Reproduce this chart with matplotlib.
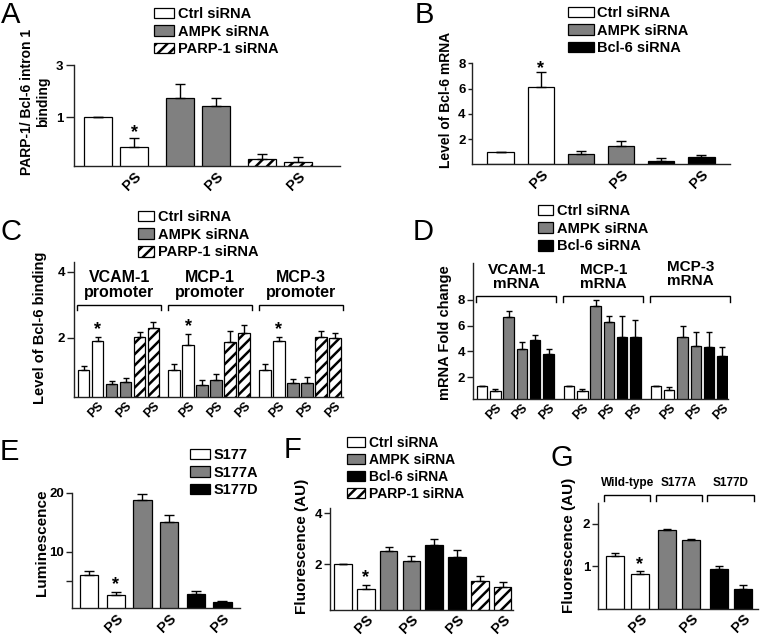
import matplotlib
matplotlib.use("Agg")
import matplotlib.pyplot as plt
from matplotlib.patches import Patch
import numpy as np

plt.rcParams['font.family'] = ['Liberation Sans', 'DejaVu Sans']
plt.rcParams['font.weight'] = 'bold'
plt.rcParams['hatch.linewidth'] = 1.8

# ---------------- data ----------------
pair_label = "PS"
# A
a_series = ["Ctrl siRNA", "AMPK siRNA", "PARP-1 siRNA"]
a_ctrl = [1.0, 0.53];  a_ctrl_err = [0.0, 0.11]
a_ampk = [1.50, 1.26]; a_ampk_err = [0.50, 0.24]
a_parp = [0.42, 0.39]; a_parp_err = [0.04, 0.045]
a_ticks = [1, 3]
# B
b_series = ["Ctrl siRNA", "AMPK siRNA", "Bcl-6 siRNA"]
b_ctrl = [0.95, 6.16]; b_ctrl_err = [0.0, 1.17]
b_ampk = [0.84, 1.43]; b_ampk_err = [0.21, 0.39]
b_bcl6 = [0.24, 0.55]; b_bcl6_err = [0.24, 0.16]
b_ticks = [2, 4, 6, 8]
# C
c_series = ["Ctrl siRNA", "AMPK siRNA", "PARP-1 siRNA"]
c_groups = ["VCAM-1\npromoter", "MCP-1\npromoter", "MCP-3\npromoter"]
c_ctrl = [1.02, 1.90, 1.03, 1.78, 1.03, 1.90]
c_ctrl_err = [0.12, 0.11, 0.17, 0.34, 0.17, 0.13]
c_ampk = [0.59, 0.67, 0.55, 0.71, 0.64, 0.64]
c_ampk_err = [0.10, 0.10, 0.17, 0.20, 0.10, 0.16]
c_parp = [2.01, 2.28, 1.88, 2.13, 2.03, 2.00]
c_parp_err = [0.15, 0.20, 0.31, 0.25, 0.17, 0.15]
c_ticks = [2, 4]
# D
d_series = ["Ctrl siRNA", "AMPK siRNA", "Bcl-6 siRNA"]
d_groups = ["VCAM-1\nmRNA", "MCP-1\nmRNA", "MCP-3\nmRNA"]
d_ctrl = [1.33, 0.94, 1.33, 0.94, 1.33, 1.02]
d_ctrl_err = [0.0, 0.15, 0.0, 0.15, 0.0, 0.20]
d_ampk = [6.66, 4.18, 7.54, 6.27, 5.10, 4.46]
d_ampk_err = [0.49, 0.59, 0.46, 0.44, 0.89, 1.04]
d_bcl6 = [4.88, 3.79, 5.10, 5.10, 4.38, 3.68]
d_bcl6_err = [0.41, 0.39, 1.66, 1.30, 1.12, 0.70]
d_ticks = [2, 4, 6, 8]
# E
e_series = ["S177", "S177A", "S177D"]
e_s177 = [6.05, 2.66];  e_s177_err = [0.65, 0.51]
e_s177a = [18.7, 15.1]; e_s177a_err = [1.0, 1.1]
e_s177d = [2.83, 1.47]; e_s177d_err = [0.51, 0.17]
e_ticks = [5, 10, 20]
e_ticklabels = ["", "10", "20"]
# F
f_series = ["Ctrl siRNA", "AMPK siRNA", "Bcl-6 siRNA", "PARP-1 siRNA"]
f_ctrl = [2.0, 1.03];  f_ctrl_err = [0.0, 0.16]
f_ampk = [2.53, 2.14]; f_ampk_err = [0.16, 0.20]
f_bcl6 = [2.76, 2.27]; f_bcl6_err = [0.23, 0.29]
f_parp = [1.36, 1.12]; f_parp_err = [0.19, 0.20]
f_ticks = [2, 4]
# G
g_groups = ["Wild-type", "S177A", "S177D"]
g_wt = [1.23, 0.81]; g_wt_err = [0.08, 0.07]
g_a = [1.84, 1.61];  g_a_err = [0.03, 0.03]
g_d = [0.94, 0.47];  g_d_err = [0.06, 0.10]
g_ticks = [1, 2]

# ---------------- styles ----------------
WHITE, GRAY, BLACK = "white", "#808080", "black"
W, H = 765, 635
fig = plt.figure(figsize=(W / 100, H / 100), dpi=100)


def fax(l, t, r, b):
    return fig.add_axes([l / W, 1 - b / H, (r - l) / W, (b - t) / H])


def style(ax, ticklen=4, fs=9):
    for s in ("top", "right"):
        ax.spines[s].set_visible(False)
    for s in ("left", "bottom"):
        ax.spines[s].set_linewidth(1.0)
        ax.spines[s].set_color("#222222")
    ax.tick_params(axis="x", length=0, pad=2)
    ax.tick_params(axis="y", length=ticklen, width=1, labelsize=fs, pad=1.5, color="#222222")
    ax.minorticks_off()


def bars(ax, x, vals, errs, color, width, cap, hatch=None):
    x = np.asarray(x, float)
    ax.bar(x, vals, width, color=color, edgecolor="black", linewidth=0.9,
           hatch=hatch, zorder=2)
    ax.errorbar(x, vals, yerr=[np.zeros(len(vals)), errs], fmt="none",
                ecolor="black", elinewidth=1.0, capsize=cap, capthick=1.0, zorder=3)


def star(ax, x, y, dy=1):
    ax.annotate("*", xy=(x, y), xytext=(0, dy), textcoords="offset points",
                ha="center", va="baseline", fontsize=13, fontweight="bold")


def pslabels(ax, xs, fs):
    ax.set_xticks(xs)
    ax.set_xticklabels([pair_label] * len(xs), rotation=45, ha="right",
                       va="top", rotation_mode="anchor", fontsize=fs,
                       fontweight="bold")


def legend(ax, labels, colors, hatches, x, y, hl, hh, fs, ls):
    hs = [Patch(facecolor=c, edgecolor="black", hatch=h, linewidth=0.9)
          for c, h in zip(colors, hatches)]
    ax.legend(hs, labels, loc="upper left", bbox_to_anchor=(x / W, 1 - y / H),
              bbox_transform=fig.transFigure, frameon=False, borderpad=0,
              borderaxespad=0, handlelength=hl, handleheight=hh,
              handletextpad=0.25, labelspacing=ls,
              prop={"size": fs, "weight": "bold"})


def bracket(ax, x0, x1, y, drop):
    ax.plot([x0, x0, x1, x1], [y - drop, y, y, y - drop], color="black",
            lw=1.0, clip_on=False, solid_joinstyle="miter")


def panel(x, y, s):
    fig.text(x / W, 1 - y / H, s, fontsize=21, fontweight="normal",
             ha="left", va="top")


# ---------------- A ----------------
ax = fax(74, 65, 340, 166.5)
pos = [0, 1, 2.28, 3.28, 4.56, 5.56]
wA = 0.78
bars(ax, pos[0:2], a_ctrl, a_ctrl_err, WHITE, wA, 3.8)
bars(ax, pos[2:4], a_ampk, a_ampk_err, GRAY, wA, 3.8)
bars(ax, pos[4:6], a_parp, a_parp_err, WHITE, wA, 3.8, hatch="///")
ax.set_yscale("log")
ax.set_ylim(0.355, 3.0)
ax.set_xlim(-0.667, 6.72)
ax.set_yticks(a_ticks)
ax.set_yticklabels([str(t) for t in a_ticks])
style(ax, ticklen=6, fs=9.5)
ax.yaxis.set_minor_locator(matplotlib.ticker.NullLocator())
pslabels(ax, [pos[1], pos[3], pos[5]], 10.5)
star(ax, pos[1], a_ctrl[1] + a_ctrl_err[1], 1)
ax.set_ylabel("PARP-1/ Bcl-6 intron 1\nbinding", fontsize=10, fontweight="bold")
ax.yaxis.set_label_coords((50 - 74) / 266, (166.5 - 102) / 101.5)
legend(ax, a_series, [WHITE, GRAY, WHITE], [None, None, "///"], 154, 7, 1.4, 0.7, 10.5, 0.25)
panel(1, 1, "A")

# ---------------- B ----------------
ax = fax(472, 63.3, 730, 164.3)
pos = [0, 1, 2, 3, 4, 5]
wB = 0.65
bars(ax, pos[0:2], b_ctrl, b_ctrl_err, WHITE, wB, 3.6)
bars(ax, pos[2:4], b_ampk, b_ampk_err, GRAY, wB, 3.6)
bars(ax, pos[4:6], b_bcl6, b_bcl6_err, BLACK, wB, 3.6)
ax.set_ylim(0, 8)
ax.set_xlim(-0.71, 5.71)
ax.set_yticks(b_ticks)
style(ax, ticklen=3, fs=9.5)
pslabels(ax, [pos[1], pos[3], pos[5]], 10.5)
star(ax, pos[1], b_ctrl[1] + b_ctrl_err[1], -1)
ax.set_ylabel("Level of Bcl-6 mRNA", fontsize=10, fontweight="bold")
ax.yaxis.set_label_coords((453 - 472) / 258, (164.3 - 100) / 101)
legend(ax, b_series, [WHITE, GRAY, BLACK], [None, None, None], 568, 6, 1.75, 0.7, 10.5, 0.25)
panel(415, 1, "B")

# ---------------- C ----------------
ax = fax(74, 262, 343, 396.7)
gsp = 6.48
wC = 0.82
for g in range(3):
    base = g * gsp
    sl = slice(2 * g, 2 * g + 2)
    bars(ax, [base, base + 1], c_ctrl[sl], c_ctrl_err[sl], WHITE, wC, 2.2)
    bars(ax, [base + 2, base + 3], c_ampk[sl], c_ampk_err[sl], GRAY, wC, 2.2)
    bars(ax, [base + 4, base + 5], c_parp[sl], c_parp_err[sl], WHITE, wC, 2.2, hatch="///")
    star(ax, base + 1, c_ctrl[2 * g + 1] + c_ctrl_err[2 * g + 1], 2)
    bracket(ax, base - 0.45, base + 5.55, 3.0, 0.17)
    ax.text(base + 2.55, 3.15, c_groups[g], ha="center", va="bottom",
            fontsize=11.5, fontweight="bold", linespacing=0.95)
ax.set_ylim(0.21, 4.29)
ax.set_xlim(-0.68, 18.54)
ax.set_yticks(c_ticks)
style(ax, ticklen=5, fs=9.5)
pslabels(ax, [g * gsp + k for g in range(3) for k in (1, 3, 5)], 9)
ax.set_ylabel("Level of Bcl-6 binding", fontsize=10.5, fontweight="bold")
ax.yaxis.set_label_coords((47 - 74) / 269, 0.51)
legend(ax, c_series, [WHITE, GRAY, WHITE], [None, None, "///"], 138, 210, 1.1, 0.75, 10.5, 0.25)
panel(1, 218, "C")

# ---------------- D ----------------
ax = fax(473, 263, 728, 399)
gsp = 6.54
wD = 0.79
for g in range(3):
    base = g * gsp
    sl = slice(2 * g, 2 * g + 2)
    bars(ax, [base, base + 1], d_ctrl[sl], d_ctrl_err[sl], WHITE, wD, 2.5)
    bars(ax, [base + 2, base + 3], d_ampk[sl], d_ampk_err[sl], GRAY, wD, 2.5)
    bars(ax, [base + 4, base + 5], d_bcl6[sl], d_bcl6_err[sl], BLACK, wD, 2.5)
    bracket(ax, base - 0.48, base + 5.55, 8.26, 0.4)
    ax.text(base + 2.6, 8.7 + (0.25 if g == 2 else 0), d_groups[g], ha="center",
            va="bottom", fontsize=11, fontweight="bold", linespacing=0.95)
ax.set_ylim(0.32, 10.85)
ax.set_xlim(-0.68, 18.5)
ax.set_yticks(d_ticks)
style(ax, ticklen=4, fs=9.5)
pslabels(ax, [g * gsp + k for g in range(3) for k in (1, 3, 5)], 9)
ax.set_ylabel("mRNA Fold change", fontsize=10.5, fontweight="bold")
ax.yaxis.set_label_coords((452 - 473) / 255, 0.49)
legend(ax, d_series, [WHITE, GRAY, BLACK], [None, None, None], 538, 204, 1.05, 0.75, 10.5, 0.25)
panel(413, 218, "D")

# ---------------- E ----------------
ax = fax(71.7, 492.7, 240, 608.3)
pos = [0, 1, 2, 3, 4, 5]
wE = 0.69
bars(ax, pos[0:2], e_s177, e_s177_err, WHITE, wE, 3.3)
bars(ax, pos[2:4], e_s177a, e_s177a_err, GRAY, wE, 3.3)
bars(ax, pos[4:6], e_s177d, e_s177d_err, BLACK, wE, 3.3)
ax.set_ylim(0.41, 20)
ax.set_xlim(-0.65, 5.66)
ax.set_yticks(e_ticks)
ax.set_yticklabels(e_ticklabels)
style(ax, ticklen=4, fs=9.5)
pslabels(ax, [pos[1], pos[3], pos[5]], 10.5)
star(ax, pos[1], e_s177[1] + e_s177_err[1], 2)
ax.set_ylabel("Luminescence", fontsize=11, fontweight="bold")
ax.yaxis.set_label_coords((49 - 71.7) / 168.3, 0.565)
legend(ax, e_series, [WHITE, GRAY, BLACK], [None, None, None], 190, 448, 1.4, 0.7, 10.5, 0.25)
panel(0, 438, "E")

# ---------------- F ----------------
ax = fax(330, 508, 513, 610)
pos = list(range(8))
wF = 0.77
bars(ax, pos[0:2], f_ctrl, f_ctrl_err, WHITE, wF, 3.0)
bars(ax, pos[2:4], f_ampk, f_ampk_err, GRAY, wF, 3.0)
bars(ax, pos[4:6], f_bcl6, f_bcl6_err, BLACK, wF, 3.0)
bars(ax, pos[6:8], f_parp, f_parp_err, WHITE, wF, 3.0, hatch="///")
ax.set_ylim(0.21, 4.2)
ax.set_xlim(-0.57, 7.46)
ax.set_yticks(f_ticks)
style(ax, ticklen=4, fs=9.5)
pslabels(ax, [pos[1], pos[3], pos[5], pos[7]], 10.5)
star(ax, pos[1], f_ctrl[1] + f_ctrl_err[1], 2)
ax.set_ylabel("Fluorescence (AU)", fontsize=11, fontweight="bold")
ax.yaxis.set_label_coords((309 - 330) / 183, 0.62)
legend(ax, f_series, [WHITE, GRAY, BLACK, WHITE], [None, None, None, "///"], 347, 436, 1.3, 0.7, 10, 0.22)
panel(284, 436, "F")

# ---------------- G ----------------
ax = fax(598, 503, 758, 609)
pos = [0, 1, 2.1, 3.1, 4.2, 5.2]
wG = 0.73
bars(ax, pos[0:2], g_wt, g_wt_err, WHITE, wG, 2.6)
bars(ax, pos[2:4], g_a, g_a_err, GRAY, wG, 2.6)
bars(ax, pos[4:6], g_d, g_d_err, BLACK, wG, 2.6)
for k in range(3):
    p0, p1 = pos[2 * k], pos[2 * k + 1]
    bracket(ax, p0 - 0.45, p1 + 0.42, 2.67, 0.14)
    ax.text((p0 + p1) / 2, 2.95, g_groups[k], ha="center", va="center",
            fontsize=8.5, fontweight="bold")
ax.set_ylim(0, 2.48)
ax.set_xlim(-0.69, 5.8)
ax.set_yticks(g_ticks)
style(ax, ticklen=4, fs=9.5)
pslabels(ax, [pos[1], pos[3], pos[5]], 10.5)
star(ax, pos[1], g_wt[1] + g_wt_err[1], 2)
ax.set_ylabel("Fluorescence (AU)", fontsize=11, fontweight="bold")
ax.yaxis.set_label_coords((576 - 598) / 160, 0.6)
panel(550, 444, "G")

fig.savefig("out.png", dpi=100, facecolor="white")
